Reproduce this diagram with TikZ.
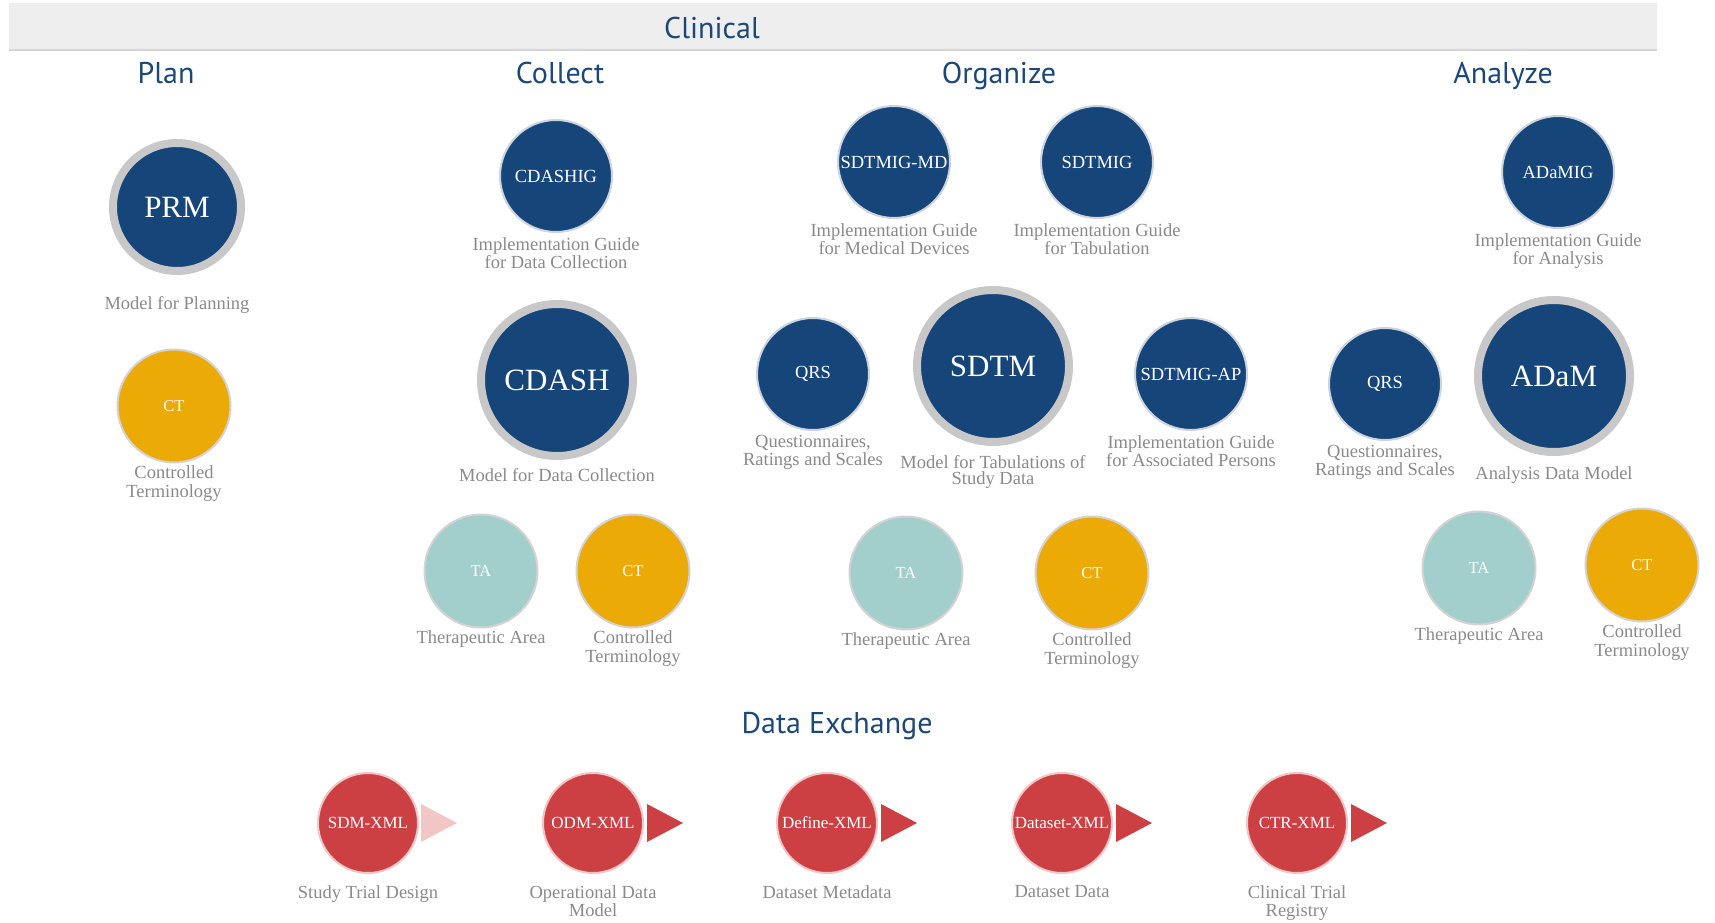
\documentclass[tikz,border=0pt]{standalone}
\usepackage{fontspec}
\setmainfont{Liberation Serif}
\newfontfamily\headfont{PT Sans}
\usetikzlibrary{positioning}
\definecolor{discblue}{RGB}{22,69,122}
\definecolor{headblue}{RGB}{27,72,120}
\definecolor{ringgray}{RGB}{200,200,200}
\definecolor{halo}{RGB}{205,212,222}
\definecolor{ctgold}{RGB}{235,170,5}
\definecolor{tateal}{RGB}{162,206,204}
\definecolor{xmlred}{RGB}{204,64,68}
\definecolor{xmlpale}{RGB}{243,198,198}
\definecolor{descgray}{RGB}{138,138,138}
\definecolor{barfill}{RGB}{238,238,238}
\definecolor{barline}{RGB}{214,214,214}

\tikzset{
  disc/.style={circle, inner sep=0pt, text=white, line width=2pt},
  bigdisc/.style={disc, fill=discblue, draw=ringgray, line width=8pt, minimum size=152pt, font=\fontsize{31}{31}\selectfont},
  bluedisc/.style={disc, fill=discblue, draw=halo, minimum size=112pt, font=\fontsize{18.5}{18.5}\selectfont},
  ctdisc/.style={disc, fill=ctgold, draw=ringgray!80, minimum size=113pt, font=\fontsize{16.5}{16.5}\selectfont},
  tadisc/.style={disc, fill=tateal, draw=ringgray!80, minimum size=113pt, font=\fontsize{16.5}{16.5}\selectfont},
  xmldisc/.style={disc, fill=xmlred, draw=xmlred!30, minimum size=100pt, font=\fontsize{17}{17}\selectfont},
  desc/.style={inner sep=0pt, align=center, text=descgray, font=\fontsize{18.5}{18.5}\selectfont},
  head/.style={anchor=base, text=headblue, font=\headfont\fontsize{30}{30}\selectfont},
}

\begin{document}
\begin{tikzpicture}[x=1pt, y=-1pt]
\useasboundingbox (0,0) rectangle (1715,923);

% banner
\fill[barfill] (9,3) rectangle (1657,50);
\draw[barline, line width=1.5pt] (9,50) -- (1657,50);

% section titles
\node[head] (clinical) at (712,39) {Clinical};
\node[head] (plan) at (166,84) {Plan};
\node[head] (collect) at (560,84) {Collect};
\node[head] (organize) at (999,84) {Organize};
\node[head] (analyze) at (1503,84) {Analyze};
\node[head] (exchange) at (837,733) {Data Exchange};

% plan
\node[bigdisc, minimum size=128pt] (prm) at (177,207) {PRM};
\node[desc, below=21pt of prm] (prmtxt) {Model for Planning};
\node[ctdisc] (ctplan) at (174,406) {CT};
\node[desc, below=2pt of ctplan] (ctplantxt) {Controlled\\Terminology};

% collect
\node[bluedisc] (cdashig) at (556,176) {CDASHIG};
\node[desc, below=4pt of cdashig] (cdashigtxt) {Implementation Guide\\for Data Collection};
\node[bigdisc] (cdash) at (557,380) {CDASH};
\node[desc, below=8pt of cdash] (cdashtxt) {Model for Data Collection};
\node[tadisc] (tacol) at (481,571) {TA};
\node[desc, below=2pt of tacol] (tacoltxt) {Therapeutic Area};
\node[ctdisc] (ctcol) at (633,571) {CT};
\node[desc, below=2pt of ctcol] (ctcoltxt) {Controlled\\Terminology};

% organize
\node[bluedisc] (sdtmigmd) at (894,162) {SDTMIG-MD};
\node[desc, below=4pt of sdtmigmd] (sdtmigmdtxt) {Implementation Guide\\for Medical Devices};
\node[bluedisc] (sdtmig) at (1097,162) {SDTMIG};
\node[desc, below=4pt of sdtmig] (sdtmigtxt) {Implementation Guide\\for Tabulation};
\node[bluedisc] (qrsorg) at (813,374) {QRS};
\node[desc, below=4pt of qrsorg] (qrsorgtxt) {Questionnaires,\\Ratings and Scales};
\node[bigdisc] (sdtm) at (993,366) {SDTM};
\node[desc, below=9pt of sdtm] (sdtmtxt) {Model for Tabulations of\\[-2pt]Study Data};
\node[bluedisc] (sdtmigap) at (1191,374) {SDTMIG-AP};
\node[desc, below=4pt of sdtmigap] (sdtmigaptxt) {Implementation Guide\\for Associated Persons};
\node[tadisc] (taorg) at (906,573) {TA};
\node[desc, below=2pt of taorg] (taorgtxt) {Therapeutic Area};
\node[ctdisc] (ctorg) at (1092,573) {CT};
\node[desc, below=2pt of ctorg] (ctorgtxt) {Controlled\\Terminology};

% analyze
\node[bluedisc] (adamig) at (1558,172) {ADaMIG};
\node[desc, below=4pt of adamig] (adamigtxt) {Implementation Guide\\for Analysis};
\node[bluedisc] (qrsana) at (1385,384) {QRS};
\node[desc, below=4pt of qrsana] (qrsanatxt) {Questionnaires,\\Ratings and Scales};
\node[bigdisc] (adam) at (1554,376) {ADaM};
\node[desc, below=10pt of adam] (adamtxt) {Analysis Data Model};
\node[tadisc] (taana) at (1479,568) {TA};
\node[desc, below=2pt of taana] (taanatxt) {Therapeutic Area};
\node[ctdisc] (ctana) at (1642,565) {CT};
\node[desc, below=2pt of ctana] (ctanatxt) {Controlled\\Terminology};

% data exchange
\node[xmldisc] (sdm) at (368,823) {SDM-XML};
\node[desc, below=11pt of sdm] (sdmtxt) {Study Trial Design};
\node[xmldisc] (odm) at (593,823) {ODM-XML};
\node[desc, below=11pt of odm] (odmtxt) {Operational Data\\Model};
\node[xmldisc] (define) at (827,823) {Define-XML};
\node[desc, below=11pt of define] (definetxt) {Dataset Metadata};
\node[xmldisc] (dsxml) at (1062,823) {Dataset-XML};
\node[desc, below=11pt of dsxml] (dsxmltxt) {Dataset Data};
\node[xmldisc] (ctr) at (1297,823) {CTR-XML};
\node[desc, below=11pt of ctr] (ctrtxt) {Clinical Trial\\Registry};

% pointers
\fill[xmlpale] ([xshift=53pt]sdm.center) -- ++(0,-19) -- ++(36,19) -- ++(-36,19) -- cycle;
\foreach \n in {odm,define,dsxml,ctr}
  \fill[xmlred] ([xshift=54pt]\n.center) -- ++(0,-19) -- ++(36,19) -- ++(-36,19) -- cycle;
\end{tikzpicture}
\end{document}
